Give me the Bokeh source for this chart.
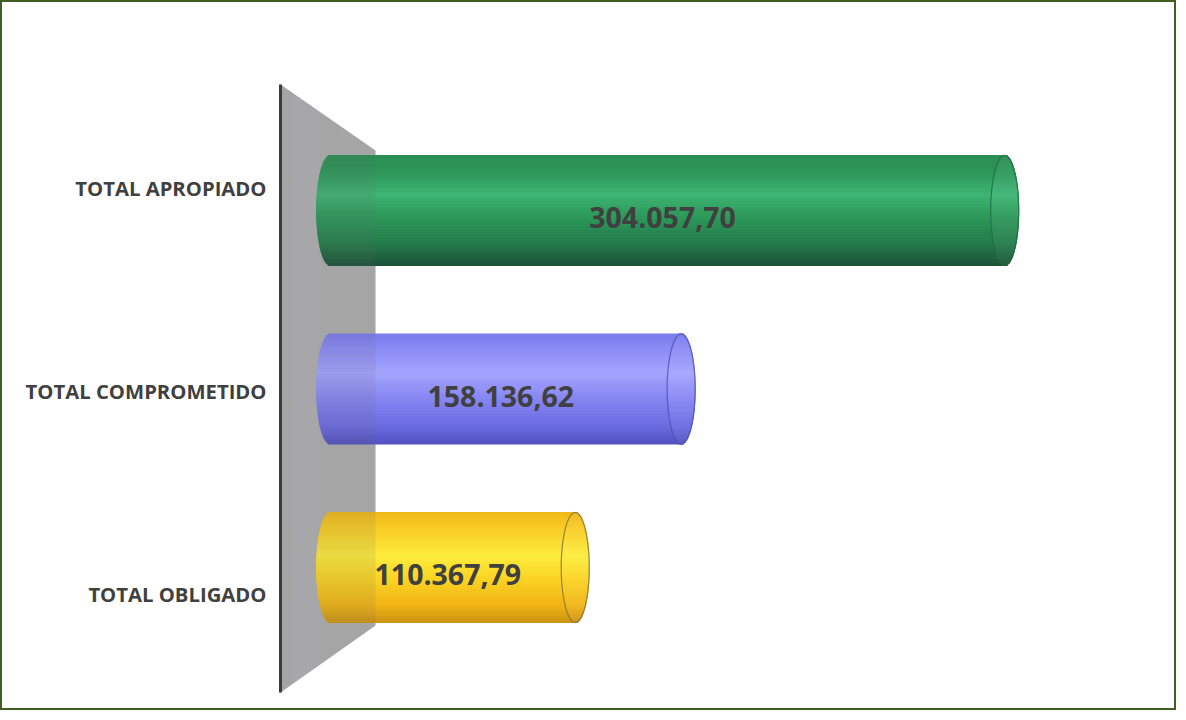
import numpy as np
from bokeh.plotting import figure
from bokeh.models import Range1d, ColumnDataSource
from bokeh.embed import file_html
from bokeh.resources import INLINE
from bokeh.core.properties import value

# ---------------- data ----------------
categorias = ["TOTAL APROPIADO", "TOTAL COMPROMETIDO", "TOTAL OBLIGADO"]
valores = [304057.70, 158136.62, 110367.79]

# ---------------- style ----------------
shades = [
    [(0.0, "#2a8d52"), (0.15, "#2c9658"), (0.36, "#3db473"), (0.55, "#2d9a5a"), (0.8, "#237c4a"), (1.0, "#1c5238")],
    [(0.0, "#7a7aee"), (0.15, "#8c8cf6"), (0.36, "#a4a4fe"), (0.6, "#8585f2"), (0.85, "#6a6ae0"), (1.0, "#5252c0")],
    [(0.0, "#f0b818"), (0.15, "#f8cc24"), (0.4, "#fdec3c"), (0.6, "#fbd424"), (0.85, "#f0b414"), (1.0, "#cc9412")],
]
rim_colors = ["#1d6a40", "#4c4cb4", "#7c7040"]
label_dy = [-23, 2, 26]
W, H = 1176, 710
X0 = 330.0      # canvas px of value zero
UPX = 451.0     # value units per px
ROW0 = 210.0    # canvas px of first row centre
ROWPX = 178.5   # px between rows
BAR_PX = 110.0
CAP_PX = 14.0
N = 60


def xd(px):
    return (px - X0) * UPX


def yd(py):
    return (py - ROW0) / ROWPX


def hex2rgb(h):
    h = h.lstrip("#")
    return np.array([int(h[i:i + 2], 16) for i in (0, 2, 4)], dtype=float)


def rgb2hex(c):
    c = np.clip(np.round(c), 0, 255).astype(int)
    return "#%02x%02x%02x" % tuple(c)


def shade(kp, t, light=0.0):
    ts = [k[0] for k in kp]
    cs = np.array([hex2rgb(k[1]) for k in kp])
    c = np.array([np.interp(t, ts, cs[:, j]) for j in range(3)])
    c = c + (255 - c) * light
    return rgb2hex(c)


def fmt(v):
    s = f"{v:,.2f}"
    return s.replace(",", "X").replace(".", ",").replace("X", ".")


p = figure(width=W, height=H, x_range=Range1d(xd(0), xd(W)),
           y_range=Range1d(yd(H), yd(0)), output_backend="svg",
           toolbar_location=None, min_border=0)
p.axis.visible = False
p.grid.visible = False
p.outline_line_color = "#3f5f22"
p.outline_line_width = 3
p.background_fill_color = "white"
p.border_fill_color = "white"

# back wall
wall_x = [xd(280), xd(375), xd(375), xd(280)]
wall_y = [yd(84), yd(150), yd(625), yd(692)]
p.patch(wall_x, wall_y, fill_color="#adadad", line_color=None)
p.patch([xd(292), xd(318), xd(318), xd(292)],
        [yd(93), yd(111), yd(664), yd(683)],
        fill_color="#bcbcc4", fill_alpha=0.25, line_color=None)

# cylinders
half = BAR_PX / 2 / ROWPX
cap = CAP_PX * UPX
edges = np.linspace(0, 1, N + 1)
for i, (cat, v) in enumerate(zip(categorias, valores)):
    kp = shades[i]
    tc = (edges[:-1] + edges[1:]) / 2
    u = 2 * tc - 1
    e = cap * np.sqrt(np.clip(1 - u ** 2, 0, 1))
    cols = [shade(kp, t) for t in tc]
    src = ColumnDataSource(dict(
        left=-e, right=v + e,
        top=i - half + edges[:-1] * 2 * half,
        bottom=i - half + edges[1:] * 2 * half,
        c=cols))
    p.quad(left="left", right="right", top="top", bottom="bottom",
           fill_color="c", line_color="c", line_width=1, source=src)
    # front face
    fcols = [shade(kp, t, 0.05) for t in tc]
    src2 = ColumnDataSource(dict(
        left=v - e, right=v + e,
        top=i - half + edges[:-1] * 2 * half,
        bottom=i - half + edges[1:] * 2 * half,
        c=fcols))
    p.quad(left="left", right="right", top="top", bottom="bottom",
           fill_color="c", line_color="c", line_width=1, source=src2)
    th = np.linspace(0, 2 * np.pi, 120)
    p.line(v + cap * np.cos(th), i + half * np.sin(th),
           line_color=rim_colors[i], line_width=1.3, line_alpha=0.75)

# translucent wall over bars
p.patch(wall_x, wall_y, fill_color="#6a6a6a", fill_alpha=0.12, line_color=None)
p.line([xd(280), xd(280)], [yd(84), yd(692)], line_color="#3c3c3c", line_width=3)

# value labels
lab = ColumnDataSource(dict(
    x=[v / 2 for v in valores], y=list(range(len(valores))),
    t=[fmt(v) for v in valores]))
p.text(x="x", y="y", text="t", source=lab, text_font=value("Open Sans"),
       text_font_style="bold", text_font_size="28.5px", text_color="#404040",
       text_align="center", text_baseline="middle", x_offset=-5, y_offset=7)

# category labels
cl = ColumnDataSource(dict(
    x=[xd(266)] * len(categorias), y=list(range(len(categorias))),
    t=categorias, dy=label_dy))
p.text(x="x", y="y", text="t", source=cl, text_font=value("Open Sans"),
       text_font_style="bold", text_font_size="20.3px", text_color="#404040",
       text_align="right", text_baseline="middle", y_offset="dy")

open("out.html", "w").write(file_html(p, INLINE))
